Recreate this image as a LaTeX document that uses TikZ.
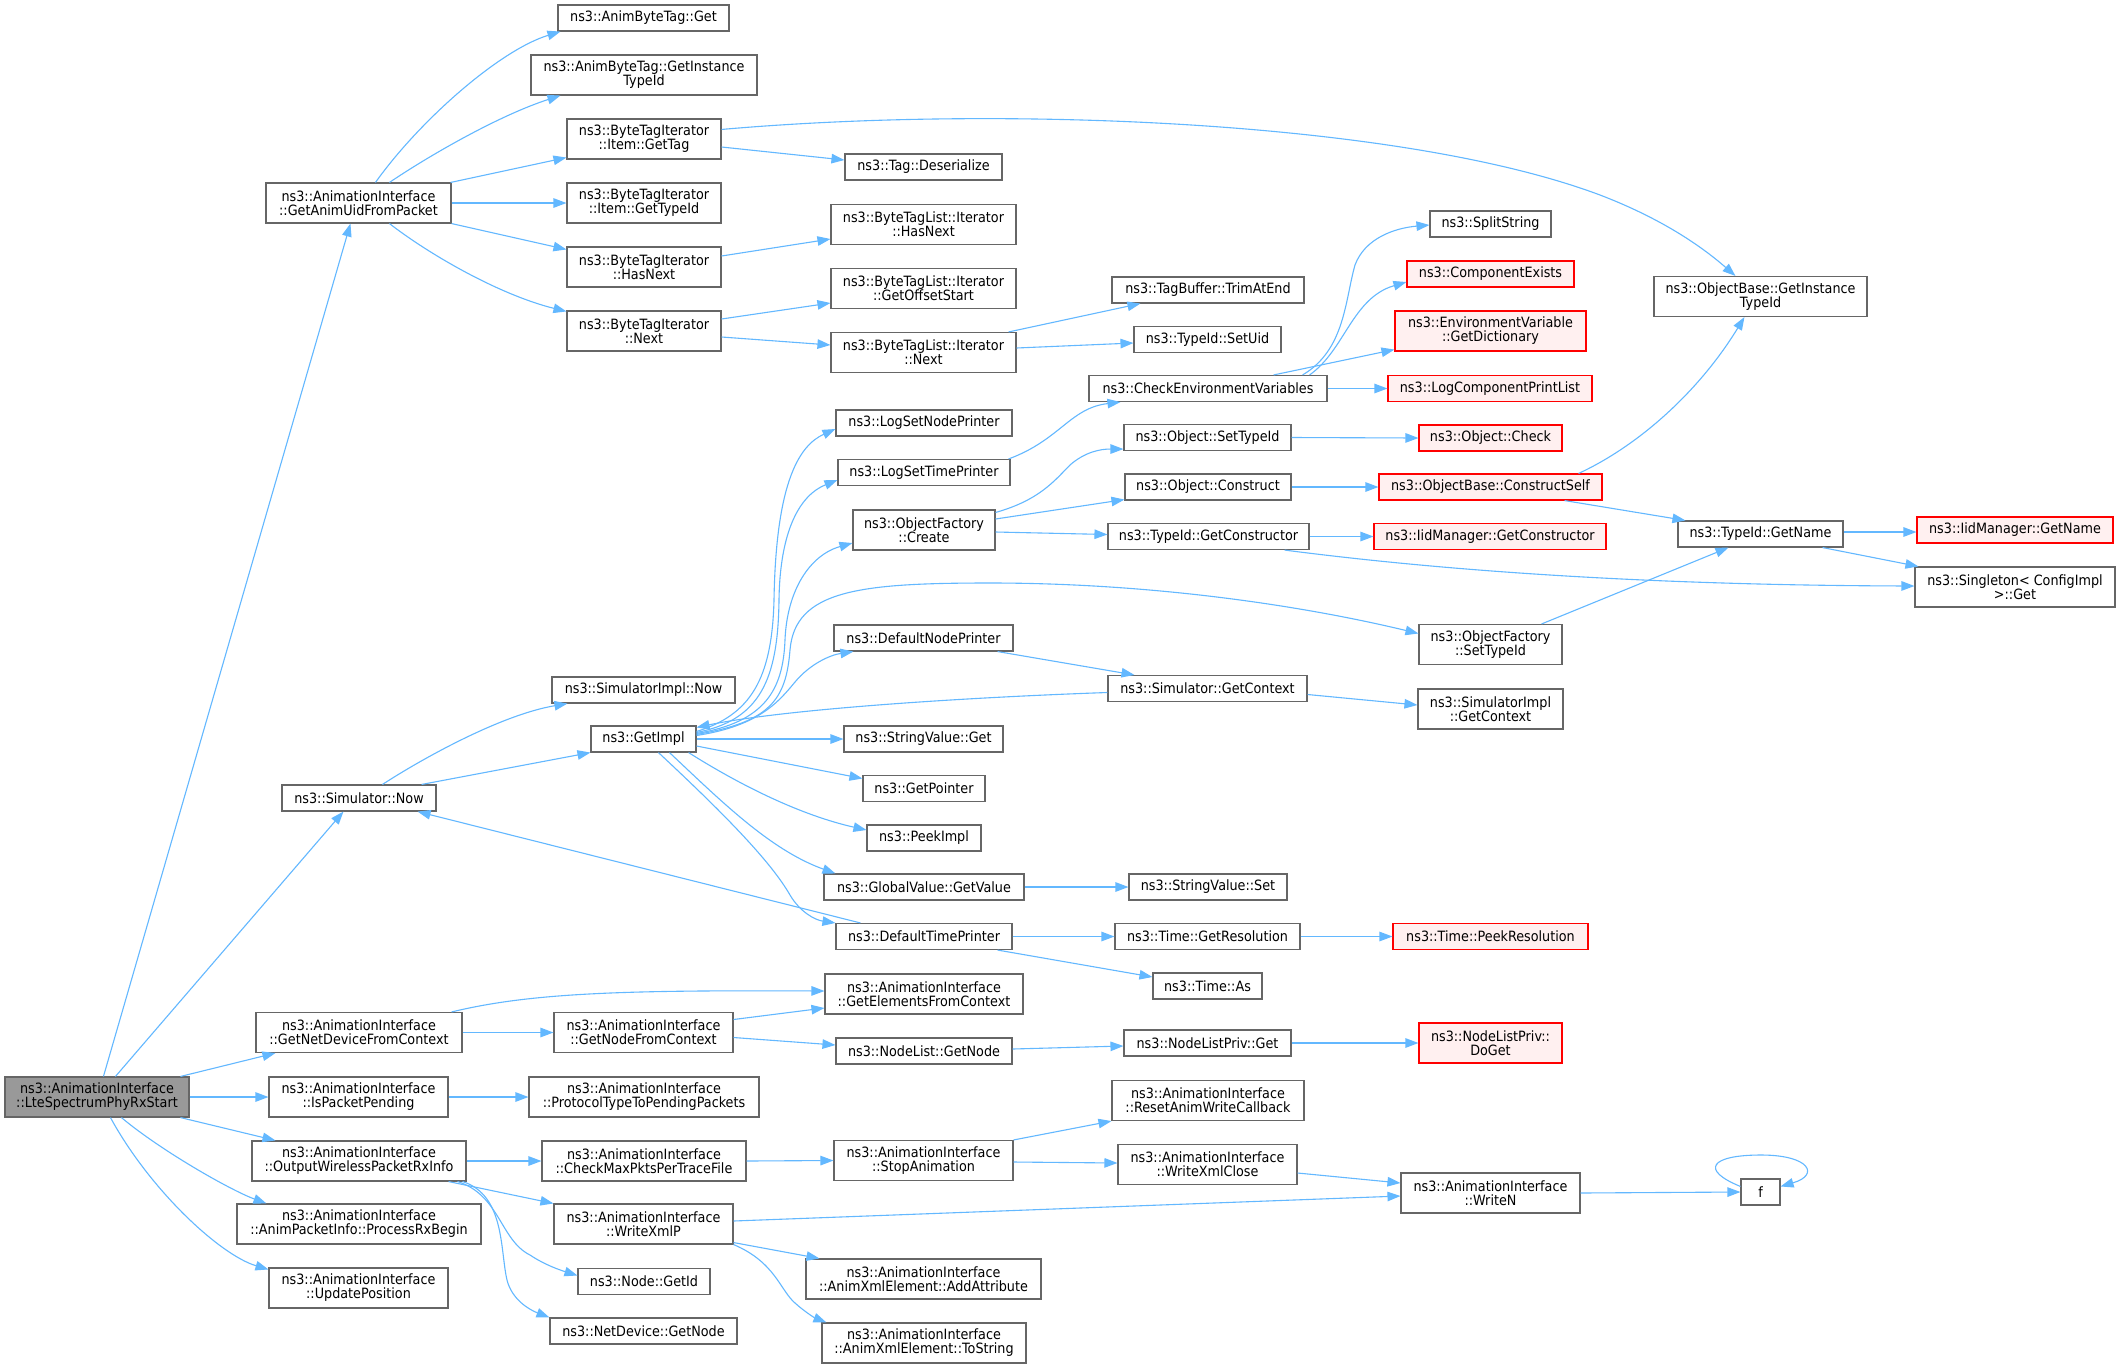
\documentclass[tikz,border=0pt]{standalone}
\usepackage{fontspec}
\setmainfont{DejaVu Sans}[FakeStretch=0.9]
\usetikzlibrary{arrows.meta}
\definecolor{edgeblue}{HTML}{63B8FF}
\definecolor{boxgray}{HTML}{666666}
\definecolor{redb}{HTML}{FF0000}
\definecolor{redf}{HTML}{FFF0F0}
\definecolor{rootf}{HTML}{999999}
\tikzset{
  box/.style={draw=boxgray, fill=white, line width=1.1pt, inner sep=0pt, align=center,
    font=\fontsize{14.2}{14}\selectfont},
  rootbox/.style={box, fill=rootf},
  redbox/.style={box, draw=redb, fill=redf},
  edge/.style={draw=edgeblue, line width=1.1pt, -{Triangle[length=13pt,width=9.5pt]}}
}
\newcommand\nb[7][box]{\node[#1, minimum width=#5pt, minimum height=#6pt] (#2) at (#3,#4) {#7};}
\begin{document}
\begin{tikzpicture}[x=1pt,y=-1pt]
\fill[white] (0,0) rectangle (2121,1369);
\useasboundingbox (0,0) rectangle (2121,1369);
% column 0/1
\nb[rootbox]{L}{97}{1097}{184}{40}{ns3::AnimationInterface\\::LteSpectrumPhyRxStart}
\nb{GA}{358.5}{203}{185}{40}{ns3::AnimationInterface\\::GetAnimUidFromPacket}
\nb{SNow}{359}{798}{154}{26}{ns3::Simulator::Now}
\nb{GNDFC}{359}{1032.5}{206}{40}{ns3::AnimationInterface\\::GetNetDeviceFromContext}
\nb{IPP}{358.5}{1097}{179}{40}{ns3::AnimationInterface\\::IsPacketPending}
\nb{OWP}{359}{1161}{214}{40}{ns3::AnimationInterface\\::OutputWirelessPacketRxInfo}
\nb{PRB}{359}{1224}{244}{40}{ns3::AnimationInterface\\::AnimPacketInfo::ProcessRxBegin}
\nb{UP}{358.5}{1288}{179}{40}{ns3::AnimationInterface\\::UpdatePosition}
% column 2
\nb{ABTGet}{643.5}{18}{171}{26}{ns3::AnimByteTag::Get}
\nb{ABTGIT}{644}{75}{226}{40}{ns3::AnimByteTag::GetInstance\\TypeId}
\nb{IGT}{644}{139}{154}{40}{ns3::ByteTagIterator\\::Item::GetTag}
\nb{IGTI}{644}{203}{154}{40}{ns3::ByteTagIterator\\::Item::GetTypeId}
\nb{BTIHN}{644}{267}{154}{40}{ns3::ByteTagIterator\\::HasNext}
\nb{BTIN}{644}{331}{154}{40}{ns3::ByteTagIterator\\::Next}
\nb{SImplNow}{643.5}{690}{183}{26}{ns3::SimulatorImpl::Now}
\nb{GetImpl}{643.5}{739}{105}{26}{ns3::GetImpl}
\nb{GNFC}{643.5}{1032.5}{179}{40}{ns3::AnimationInterface\\::GetNodeFromContext}
\nb{PTTPP}{644}{1097}{230}{40}{ns3::AnimationInterface\\::ProtocolTypeToPendingPackets}
\nb{CMP}{644}{1161}{204}{40}{ns3::AnimationInterface\\::CheckMaxPktsPerTraceFile}
\nb{WXP}{643.5}{1224}{179}{40}{ns3::AnimationInterface\\::WriteXmlP}
\nb{NGI}{644}{1281.5}{132}{26}{ns3::Node::GetId}
\nb{NDGN}{643.5}{1331}{187}{26}{ns3::NetDevice::GetNode}
% column 3
\nb{TD}{923.5}{167}{157}{26}{ns3::Tag::Deserialize}
\nb{BTLHN}{923.5}{224.5}{185}{40}{ns3::ByteTagList::Iterator\\::HasNext}
\nb{BTLGOS}{923.5}{288.5}{185}{40}{ns3::ByteTagList::Iterator\\::GetOffsetStart}
\nb{BTLN}{923.5}{352.5}{185}{40}{ns3::ByteTagList::Iterator\\::Next}
\nb{LSNP}{924}{423}{176}{26}{ns3::LogSetNodePrinter}
\nb{LSTP}{924}{472.5}{172}{26}{ns3::LogSetTimePrinter}
\nb{OFC}{924}{530}{142}{40}{ns3::ObjectFactory\\::Create}
\nb{DNP}{923.5}{638}{179}{26}{ns3::DefaultNodePrinter}
\nb{SVG}{923.5}{739}{159}{26}{ns3::StringValue::Get}
\nb{GP}{924}{788.5}{122}{26}{ns3::GetPointer}
\nb{PI}{924}{838}{114}{26}{ns3::PeekImpl}
\nb{GVGV}{924}{887}{200}{26}{ns3::GlobalValue::GetValue}
\nb{DTP}{924}{936.5}{176}{26}{ns3::DefaultTimePrinter}
\nb{GEFC}{924}{994}{198}{40}{ns3::AnimationInterface\\::GetElementsFromContext}
\nb{NLGN}{924}{1051}{176}{26}{ns3::NodeList::GetNode}
\nb{SA}{923.5}{1160.5}{179}{40}{ns3::AnimationInterface\\::StopAnimation}
\nb{AA}{923.5}{1279}{235}{40}{ns3::AnimationInterface\\::AnimXmlElement::AddAttribute}
\nb{TS}{924}{1343}{204}{40}{ns3::AnimationInterface\\::AnimXmlElement::ToString}
% column 4
\nb{TAE}{1208}{290}{192}{26}{ns3::TagBuffer::TrimAtEnd}
\nb{SU}{1207.5}{339.5}{147}{26}{ns3::TypeId::SetUid}
\nb{CEV}{1208}{388.5}{238}{26}{ns3::CheckEnvironmentVariables}
\nb{OST}{1207.5}{437.5}{167}{26}{ns3::Object::SetTypeId}
\nb{OCo}{1208}{487}{166}{26}{ns3::Object::Construct}
\nb{TIGC}{1208.5}{536.5}{201}{26}{ns3::TypeId::GetConstructor}
\nb{SGC}{1207.5}{688.5}{199}{26}{ns3::Simulator::GetContext}
\nb{SVS}{1208}{887}{158}{26}{ns3::StringValue::Set}
\nb{TGR}{1207.5}{936.5}{185}{26}{ns3::Time::GetResolution}
\nb{TA}{1207.5}{986}{109}{26}{ns3::Time::As}
\nb{NLPG}{1207.5}{1043}{167}{26}{ns3::NodeListPriv::Get}
\nb{RAWC}{1208}{1100.5}{192}{40}{ns3::AnimationInterface\\::ResetAnimWriteCallback}
\nb{WXC}{1207.5}{1164.5}{179}{40}{ns3::AnimationInterface\\::WriteXmlClose}
% column 5
\nb{SS}{1490.5}{224}{121}{26}{ns3::SplitString}
\nb[redbox]{CE}{1490.5}{274}{167}{26}{ns3::ComponentExists}
\nb[redbox]{EVGD}{1490.5}{331}{191}{40}{ns3::EnvironmentVariable\\::GetDictionary}
\nb[redbox]{LCPL}{1490}{388.5}{204}{26}{ns3::LogComponentPrintList}
\nb[redbox]{OCh}{1490.5}{438}{143}{26}{ns3::Object::Check}
\nb[redbox]{OBCS}{1490.5}{487}{223}{26}{ns3::ObjectBase::ConstructSelf}
\nb[redbox]{IMGC}{1490}{536.5}{232}{26}{ns3::IidManager::GetConstructor}
\nb{OFST}{1490.5}{644.5}{143}{40}{ns3::ObjectFactory\\::SetTypeId}
\nb{SIGC}{1490.5}{709}{145}{40}{ns3::SimulatorImpl\\::GetContext}
\nb[redbox]{TPR}{1490.5}{936.5}{195}{26}{ns3::Time::PeekResolution}
\nb[redbox]{DoGet}{1490.5}{1043}{143}{40}{ns3::NodeListPriv::\\DoGet}
\nb{WN}{1490.5}{1193}{179}{40}{ns3::AnimationInterface\\::WriteN}
% columns 6/7
\nb{OBGIT}{1760.5}{296.5}{213}{40}{ns3::ObjectBase::GetInstance\\TypeId}
\nb{TIGN}{1760.5}{534}{165}{26}{ns3::TypeId::GetName}
\nb{F}{1760.5}{1192}{39}{26}{f}
\nb[redbox]{IMGN}{2015}{530}{196}{26}{ns3::IidManager::GetName}
\nb{SCG}{2015}{587}{200}{40}{ns3::Singleton< ConfigImpl\\>::Get}

% ---- edges from root
\draw[edge] ([shift={(99,0)}]L.north west) -- ([shift={(85,0)}]GA.south west);
\draw[edge] ([shift={(111,0)}]L.north west) -- ([shift={(62,0)}]SNow.south west);
\draw[edge] ([shift={(176,0)}]L.north west) -- ([shift={(20,0)}]GNDFC.south west);
\draw[edge] (L.east) -- (IPP.west);
\draw[edge] ([shift={(176,0)}]L.south west) -- ([shift={(24,0)}]OWP.north west);
\draw[edge] ([shift={(117,0)}]L.south west) .. controls (160,1150) and (230,1190) .. ([shift={(30,0)}]PRB.north west);
\draw[edge] ([shift={(106,0)}]L.south west) .. controls (150,1190) and (220,1255) .. ([shift={(0,2)}]UP.north west);
% ---- GetAnimUidFromPacket
\draw[edge] ([shift={(110,0)}]GA.north west) .. controls (420,120) and (500,50) .. ([shift={(3,0)}]ABTGet.south west);
\draw[edge] ([shift={(124,0)}]GA.north west) .. controls (430,155) and (500,115) .. ([shift={(30,0)}]ABTGIT.south west);
\draw[edge] ([shift={(-1,0)}]GA.north east) -- ([shift={(0,-2)}]IGT.south west);
\draw[edge] (GA.east) -- (IGTI.west);
\draw[edge] (GA.south east) -- ([shift={(0,3)}]BTIHN.north west);
\draw[edge] ([shift={(124,0)}]GA.south west) .. controls (430,255) and (500,295) .. ([shift={(0,1)}]BTIN.north west);
% ---- ByteTag chains
\draw[edge] ([shift={(0,11)}]IGT.north east) .. controls (1000,105) and (1400,120) .. (1600,195) .. controls (1660,218) and (1700,245) .. ([shift={(82,0)}]OBGIT.north west);
\draw[edge] ([shift={(0,8)}]IGT.east) -- ([shift={(0,-7)}]TD.west);
\draw[edge] ([shift={(0,-11)}]BTIHN.east) -- ([shift={(0,14.5)}]BTLHN.west);
\draw[edge] ([shift={(0,-12)}]BTIN.east) -- ([shift={(0,14.5)}]BTLGOS.west);
\draw[edge] ([shift={(0,6)}]BTIN.east) -- ([shift={(0,-7.5)}]BTLN.west);
\draw[edge] ([shift={(-8,0)}]BTLN.north east) -- ([shift={(29,0)}]TAE.south west);
\draw[edge] ([shift={(0,-4.5)}]BTLN.east) -- ([shift={(0,3.5)}]SU.west);
% ---- CheckEnvironmentVariables
\draw[edge] ([shift={(-25,0)}]CEV.north east) .. controls (1345,350) and (1345,300) .. (1355,265) .. controls (1365,238) and (1395,228) .. ([shift={(0,1)}]SS.west);
\draw[edge] ([shift={(-18,0)}]CEV.north east) .. controls (1345,350) and (1352,298) .. ([shift={(0,8)}]CE.west);
\draw[edge] ([shift={(-54,0)}]CEV.north east) -- ([shift={(0,-2)}]EVGD.south west);
\draw[edge] (CEV.east) -- (LCPL.west);
\draw[edge] ([shift={(-2,0)}]LSTP.north east) .. controls (1060,440) and (1070,408) .. ([shift={(32,0)}]CEV.south west);
% ---- GetImpl fan
\draw[edge] ([shift={(0,6)}]GetImpl.north east) .. controls (750,715) and (772,680) .. (774,600) .. controls (776,480) and (800,445) .. ([shift={(0,6)}]LSNP.west);
\draw[edge] ([shift={(0,7)}]GetImpl.north east) .. controls (760,720) and (778,680) .. (779,600) .. controls (780,530) and (800,495) .. ([shift={(0,7.5)}]LSTP.west);
\draw[edge] ([shift={(0,8)}]GetImpl.north east) .. controls (765,722) and (783,690) .. (785,640) .. controls (787,590) and (810,555) .. ([shift={(0,13)}]OFC.west);
\draw[edge] ([shift={(0,9)}]GetImpl.north east) .. controls (770,722) and (786,700) .. (790,650) .. controls (795,590) and (860,583) .. (990,583) .. controls (1150,583) and (1300,605) .. ([shift={(0,-11)}]OFST.west);
\draw[edge] ([shift={(0,10)}]GetImpl.north east) .. controls (760,726) and (780,700) .. (795,682) .. controls (810,664) and (830,655) .. ([shift={(20,0)}]DNP.south west);
\draw[edge] ([shift={(0,4)}]SGC.west) .. controls (950,698) and (780,710) .. ([shift={(0,2)}]GetImpl.north east);
\draw[edge] (GetImpl.east) -- (SVG.west);
\draw[edge] ([shift={(0,7)}]GetImpl.east) -- ([shift={(0,-10)}]GP.west);
\draw[edge] ([shift={(-8,0)}]GetImpl.south east) .. controls (740,785) and (800,815) .. ([shift={(0,-8)}]PI.west);
\draw[edge] ([shift={(79,0)}]GetImpl.south west) .. controls (720,800) and (770,850) .. ([shift={(12,0)}]GVGV.north west);
\draw[edge] ([shift={(68,0)}]GetImpl.south west) .. controls (720,810) and (770,860) .. (790,895) .. controls (800,912) and (815,920) .. (DTP.north west);
% ---- printers / context
\draw[edge] ([shift={(25,0)}]DTP.north west) -- ([shift={(-19,0)}]SNow.south east);
\draw[edge] (DTP.east) -- (TGR.west);
\draw[edge] ([shift={(-15,0)}]DTP.south east) -- ([shift={(0,-9)}]TA.west);
\draw[edge] (TGR.east) -- (TPR.west);
\draw[edge] ([shift={(-16,0)}]DNP.south east) -- ([shift={(27,0)}]SGC.north west);
\draw[edge] ([shift={(0,6)}]SGC.east) -- ([shift={(0,-4)}]SIGC.west);
\draw[edge] (GVGV.east) -- (SVS.west);
% ---- Simulator::Now
\draw[edge] ([shift={(101,0)}]SNow.north west) .. controls (420,760) and (500,715) .. ([shift={(16,0)}]SImplNow.south west);
\draw[edge] ([shift={(-15,0)}]SNow.north east) -- (GetImpl.south west);
% ---- ObjectFactory::Create
\draw[edge] ([shift={(0,3)}]OFC.north east) .. controls (1040,500) and (1055,480) .. (1070,465) .. controls (1085,452) and (1100,449) .. ([shift={(0,-2)}]OST.south west);
\draw[edge] ([shift={(0,-11)}]OFC.east) -- ([shift={(0,-1)}]OCo.south west);
\draw[edge] ([shift={(0,2)}]OFC.east) -- ([shift={(0,-2)}]TIGC.west);
\draw[edge] (OST.east) -- (OCh.west);
\draw[edge] (OCo.east) -- (OBCS.west);
\draw[edge] (TIGC.east) -- (IMGC.west);
\draw[edge] ([shift={(-25,0)}]TIGC.south east) .. controls (1400,565) and (1600,585) .. ([shift={(0,-1)}]SCG.west);
\draw[edge] ([shift={(-24,0)}]OBCS.north east) .. controls (1640,445) and (1700,390) .. ([shift={(91,0)}]OBGIT.south west);
\draw[edge] ([shift={(-38,0)}]OBCS.south east) -- ([shift={(8,0)}]TIGN.north west);
\draw[edge] ([shift={(-21,0)}]OFST.north east) -- ([shift={(51,0)}]TIGN.south west);
\draw[edge] ([shift={(0,-2)}]TIGN.east) -- ([shift={(0,2)}]IMGN.west);
\draw[edge] ([shift={(-21,0)}]TIGN.south east) -- ([shift={(4,0)}]SCG.north west);
% ---- lower part
\draw[edge] ([shift={(-11,0)}]GNDFC.north east) .. controls (530,993) and (620,990) .. ([shift={(0,-3)}]GEFC.west);
\draw[edge] (GNDFC.east) -- (GNFC.west);
\draw[edge] ([shift={(0,-13)}]GNFC.east) -- ([shift={(0,14)}]GEFC.west);
\draw[edge] ([shift={(0,5)}]GNFC.east) -- ([shift={(0,-6)}]NLGN.west);
\draw[edge] ([shift={(0,-2)}]NLGN.east) -- ([shift={(0,3)}]NLPG.west);
\draw[edge] (NLPG.east) -- (DoGet.west);
\draw[edge] (IPP.east) -- (PTTPP.west);
\draw[edge] (OWP.east) -- (CMP.west);
\draw[edge] ([shift={(-18,0)}]OWP.south east) -- (WXP.north west);
\draw[edge] ([shift={(-9,0)}]OWP.south east) .. controls (500,1195) and (500,1240) .. (530,1255) .. controls (545,1265) and (560,1270) .. ([shift={(0,-6)}]NGI.west);
\draw[edge] ([shift={(-4,0)}]OWP.south east) .. controls (505,1195) and (500,1250) .. (507,1280) .. controls (512,1300) and (530,1310) .. (NDGN.north west);
\draw[edge] (CMP.east) -- (SA.west);
\draw[edge] (SA.north east) -- (RAWC.south west);
\draw[edge] ([shift={(0,1.5)}]SA.east) -- ([shift={(0,-1.5)}]WXC.west);
\draw[edge] ([shift={(0,8.5)}]WXC.east) -- ([shift={(0,-10)}]WN.west);
\draw[edge] ([shift={(0,-3)}]WXP.east) -- ([shift={(0,3)}]WN.west);
\draw[edge] ([shift={(0,-2)}]WXP.south east) -- ([shift={(14,0)}]AA.north west);
\draw[edge] (WXP.south east) .. controls (775,1262) and (780,1290) .. (795,1303) .. controls (805,1312) and (815,1318) .. ([shift={(5,0)}]TS.north west);
\draw[edge] (WN.east) -- (F.west);
\draw[edge] ([shift={(0,8)}]F.north west) .. controls (1700,1170) and (1710,1155) .. (1761,1155) .. controls (1810,1155) and (1820,1175) .. ([shift={(0,8)}]F.north east);
\end{tikzpicture}
\end{document}
